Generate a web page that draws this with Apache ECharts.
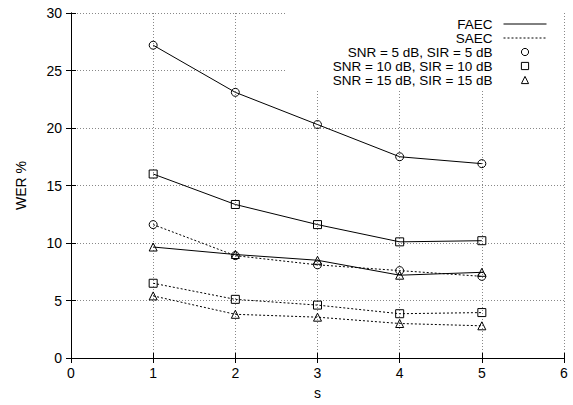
<!DOCTYPE html>
<html>
<head>
<meta charset="utf-8">
<script src="https://cdn.jsdelivr.net/npm/echarts@6/dist/echarts.min.js"></script>
<style>
html,body{margin:0;padding:0;background:#fff;}
#chart{width:573px;height:405px;}
</style>
</head>
<body>
<div id="chart"></div>
<script>
// ---- data ----
var sValues = [1, 2, 3, 4, 5];
var faecSnr5  = [27.2, 23.1, 20.3, 17.5, 16.9];
var faecSnr10 = [16.0, 13.35, 11.6, 10.1, 10.2];
var faecSnr15 = [9.65, 9.0, 8.5, 7.2, 7.45];
var saecSnr5  = [11.6, 8.9, 8.1, 7.6, 7.1];
var saecSnr10 = [6.5, 5.1, 4.6, 3.85, 3.95];
var saecSnr15 = [5.4, 3.8, 3.55, 3.0, 2.8];
var legendNames = ['FAEC', 'SAEC', 'SNR = 5 dB, SIR = 5 dB', 'SNR = 10 dB, SIR = 10 dB', 'SNR = 15 dB, SIR = 15 dB'];
var xTicks = [0, 1, 2, 3, 4, 5, 6];
var yTicks = [0, 5, 10, 15, 20, 25, 30];

var FONT = '"Liberation Sans", Arial, Helvetica, sans-serif';
var hollow = {color: 'rgba(0,0,0,0)', borderColor: '#000', borderWidth: 1};

function pairs(ys) { return sValues.map(function (x, i) { return [x, ys[i]]; }); }

function dataSeries(name, ys, symbol, dotted) {
  return {
    name: name, type: 'line', data: pairs(ys),
    symbol: symbol, symbolSize: 8,
    itemStyle: hollow,
    lineStyle: {color: '#000', width: 1, type: dotted ? [2, 2] : 'solid'},
    z: 3
  };
}
function dummy(name, symbol, dotted) {
  return {
    name: name, type: 'line', data: [], symbol: symbol, symbolSize: 8,
    itemStyle: hollow,
    lineStyle: {color: '#000', width: 1, type: dotted ? [2, 2] : 'solid'}
  };
}

var axisCommon = {
  type: 'value',
  axisLine: {show: true, lineStyle: {color: '#000', width: 1}},
  axisTick: {show: true, inside: true, length: 5, lineStyle: {color: '#000', width: 1}},
  axisLabel: {color: '#000', fontSize: 14, fontFamily: FONT},
  splitLine: {show: true, lineStyle: {color: '#888', width: 1, type: [1, 2]}}
};
function ax(extra) { return Object.assign({}, JSON.parse(JSON.stringify(axisCommon)), extra); }

var chart = echarts.init(document.getElementById('chart'), null, {renderer: 'svg'});
chart.setOption({
  animation: false,
  backgroundColor: '#fff',
  grid: {left: 71, right: 9, top: 13, bottom: 45, containLabel: false},
  legend: {
    data: [
      {name: legendNames[0], itemStyle: {opacity: 0}},
      {name: legendNames[1], itemStyle: {opacity: 0}},
      {name: legendNames[2], lineStyle: {opacity: 0}},
      {name: legendNames[3], lineStyle: {opacity: 0}},
      {name: legendNames[4], lineStyle: {opacity: 0}}
    ],
    orient: 'vertical', align: 'right',
    right: 9, top: 13,
    padding: [4, 17, 4, 46],
    itemWidth: 43, itemHeight: 9, itemGap: 0,
    backgroundColor: '#fff',
    selectedMode: false,
    itemStyle: {borderWidth: 1},
    lineStyle: {width: 1},
    textStyle: {color: '#000', fontSize: 13.5, fontFamily: FONT, lineHeight: 14, padding: [0, 6, 0, 0]}
  },
  xAxis: [
    ax({min: xTicks[0], max: xTicks[xTicks.length - 1], interval: 1, position: 'bottom',
        name: 's', nameLocation: 'middle', nameGap: 28,
        nameTextStyle: {color: '#000', fontSize: 14, fontFamily: FONT},
        axisLabel: {color: '#000', fontSize: 14, fontFamily: FONT, margin: 8}}),
    ax({min: xTicks[0], max: xTicks[xTicks.length - 1], interval: 1, position: 'top',
        axisLabel: {show: false}, splitLine: {show: false}, z: 5})
  ],
  yAxis: [
    ax({min: yTicks[0], max: yTicks[yTicks.length - 1], interval: 5, position: 'left',
        name: 'WER %', nameLocation: 'middle', nameGap: 43,
        nameTextStyle: {color: '#000', fontSize: 14, fontFamily: FONT},
        axisLabel: {color: '#000', fontSize: 14, fontFamily: FONT, margin: 9}}),
    ax({min: yTicks[0], max: yTicks[yTicks.length - 1], interval: 5, position: 'right',
        axisLabel: {show: false}, splitLine: {show: false}, z: 5})
  ],
  series: [
    dummy(legendNames[0], 'none', false),
    dummy(legendNames[1], 'none', true),
    dummy(legendNames[2], 'circle', false),
    dummy(legendNames[3], 'rect', false),
    dummy(legendNames[4], 'triangle', false),
    dataSeries('FAEC SNR5', faecSnr5, 'circle', false),
    dataSeries('FAEC SNR10', faecSnr10, 'rect', false),
    dataSeries('FAEC SNR15', faecSnr15, 'triangle', false),
    dataSeries('SAEC SNR5', saecSnr5, 'circle', true),
    dataSeries('SAEC SNR10', saecSnr10, 'rect', true),
    dataSeries('SAEC SNR15', saecSnr15, 'triangle', true)
  ]
});
</script>
</body>
</html>
